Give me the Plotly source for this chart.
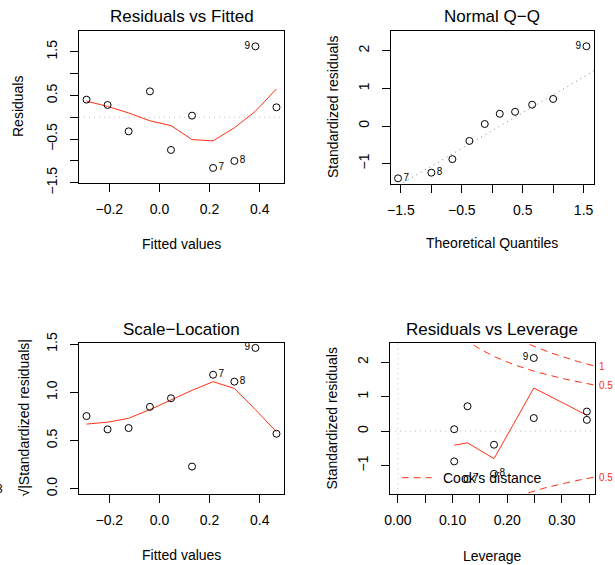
import numpy as np
import plotly.graph_objects as go

# ---------------- data ----------------
obs_ids = [1, 2, 3, 4, 5, 6, 7, 8, 9, 10]
fitted = [-0.291, -0.207, -0.123, -0.038, 0.046, 0.130, 0.214, 0.299, 0.383, 0.467]
residuals = [0.405, 0.282, -0.321, 0.595, -0.748, 0.038, -1.160, -1.000, 1.626, 0.229]
std_resid = [0.567, 0.378, -0.396, 0.720, -0.880, 0.053, -1.390, -1.240, 2.120, 0.325]
sqrt_abs_std = [0.753, 0.615, 0.629, 0.849, 0.938, 0.230, 1.182, 1.110, 1.460, 0.570]
leverage = [0.3455, 0.2485, 0.1758, 0.1273, 0.1030, 0.1030, 0.1273, 0.1758, 0.2485, 0.3455]
theoretical_q = [-1.547, -1.000, -0.655, -0.375, -0.123, 0.123, 0.375, 0.655, 1.000, 1.547]

smooth_fitted = [0.37, 0.25, 0.10, -0.08, -0.19, -0.51, -0.54, -0.24, 0.14, 0.65]
smooth_scale = [0.67, 0.69, 0.73, 0.82, 0.92, 1.02, 1.11, 1.04, 0.82, 0.59]
smooth_lev_x = [0.1030, 0.1273, 0.1758, 0.2485, 0.3455]
smooth_lev_y = [-0.41, -0.34, -0.80, 1.25, 0.46]

cook_levels = [0.5, 1.0]
n_params = 2
label_side = {7: "middle right", 8: "middle right", 9: "middle left"}

# ---------------- styling ----------------
W, H = 615, 565
FONT = "Liberation Sans, Arial, Helvetica, sans-serif"
RED = "#ff3015"
MINUS = "\u2212"


def fx(p):
    return p / W


def fy(p):
    return 1 - p / H


def fmt(v, nd):
    s = f"{abs(v):.{nd}f}"
    return (MINUS + s) if v < 0 else s


def ticks(vals, labelled_vals, nd):
    return dict(tickvals=vals,
                ticktext=[fmt(v, nd) if any(abs(v - l) < 1e-9 for l in labelled_vals) else "" for v in vals])


def axis(domain_px, rng, tk, anchor, is_y=False):
    d = dict(
        domain=[fy(domain_px[1]), fy(domain_px[0])] if is_y else [fx(domain_px[0]), fx(domain_px[1])],
        range=rng, anchor=anchor, showgrid=False, zeroline=False, automargin=False,
        showline=True, mirror=True, linecolor="black", linewidth=1,
        ticks="outside", ticklen=8, tickwidth=1, tickcolor="black",
        tickfont=dict(family=FONT, size=14, color="black"),
        ticklabelstandoff=7 if is_y else 5,
        **tk,
    )
    if is_y:
        d["tickangle"] = -90
    return d


fig = go.Figure()


def point_trace(x, y, xa, ya):
    texts = [str(i) if i in label_side else "" for i in obs_ids]
    pos = [label_side.get(i, "middle right") for i in obs_ids]
    return go.Scatter(x=x, y=y, xaxis=xa, yaxis=ya, mode="markers+text",
                      text=texts, textposition=pos,
                      textfont=dict(family=FONT, size=10, color="black"),
                      marker=dict(symbol="circle-open", size=7, color="black",
                                  line=dict(width=1, color="black")),
                      cliponaxis=False, hoverinfo="skip")


# Panel 1: Residuals vs Fitted
fig.add_trace(go.Scatter(x=fitted, y=smooth_fitted, xaxis="x", yaxis="y", mode="lines",
                         line=dict(color=RED, width=1), hoverinfo="skip"))
fig.add_trace(point_trace(fitted, residuals, "x", "y"))

# Panel 2: Normal Q-Q
order = np.argsort(std_resid)
qq_y = [std_resid[i] for i in order]
qq_ids = [obs_ids[i] for i in order]
q1, q3 = np.quantile(std_resid, [0.25, 0.75])
z75 = 0.6744898
slope = (q3 - q1) / (2 * z75)
intercept = q1 + slope * z75
qx_rng = [-1.671, 1.671]
fig.add_trace(go.Scatter(x=qx_rng, y=[intercept + slope * v for v in qx_rng], xaxis="x2", yaxis="y2",
                         mode="lines", line=dict(color="#7f7f7f", width=1, dash="1px,4px"),
                         hoverinfo="skip"))
fig.add_trace(go.Scatter(x=theoretical_q, y=qq_y, xaxis="x2", yaxis="y2", mode="markers+text",
                         text=[str(i) if i in label_side else "" for i in qq_ids],
                         textposition=[label_side.get(i, "middle right") for i in qq_ids],
                         textfont=dict(family=FONT, size=10, color="black"),
                         marker=dict(symbol="circle-open", size=7, color="black",
                                     line=dict(width=1, color="black")),
                         cliponaxis=False, hoverinfo="skip"))

# Panel 3: Scale-Location
fig.add_trace(go.Scatter(x=fitted, y=smooth_scale, xaxis="x3", yaxis="y3", mode="lines",
                         line=dict(color=RED, width=1), hoverinfo="skip"))
fig.add_trace(point_trace(fitted, sqrt_abs_std, "x3", "y3"))

# Panel 4: Residuals vs Leverage
lev_rng = [-0.0144, 0.3604]
lev_y_rng = [-1.834, 2.564]
hh = np.linspace(min(leverage[0], leverage[1] / 100), lev_rng[1], 101)
for c in cook_levels:
    cl = np.sqrt(c * n_params * (1 - hh) / hh)
    for sgn in (1, -1):
        fig.add_trace(go.Scatter(x=hh, y=sgn * cl, xaxis="x4", yaxis="y4", mode="lines",
                                 line=dict(color=RED, width=1, dash="7px,5px"), hoverinfo="skip"))
fig.add_trace(go.Scatter(x=smooth_lev_x, y=smooth_lev_y, xaxis="x4", yaxis="y4", mode="lines",
                         line=dict(color=RED, width=1), hoverinfo="skip"))
fig.add_trace(point_trace(leverage, std_resid, "x4", "y4"))

# axes
P1 = ([79, 284], [31, 183.3])
P2 = ([390.5, 594], [30.7, 184])
P3 = ([79, 284], [342.7, 494.3])
P4 = ([390, 595], [342.7, 494.3])
fit_x_ticks = ticks([-0.2, 0.0, 0.2, 0.4], [-0.2, 0.0, 0.2, 0.4], 1)
fig.update_layout(
    xaxis=axis(P1[0], [-0.321, 0.497], fit_x_ticks, "y"),
    yaxis=axis(P1[1], [-1.512, 1.978],
               ticks([-1.5, -1, -0.5, 0, 0.5, 1, 1.5], [-1.5, -0.5, 0.5, 1.5], 1), "x", True),
    xaxis2=axis(P2[0], qx_rng,
                ticks([-1.5, -1, -0.5, 0, 0.5, 1, 1.5], [-1.5, -0.5, 0.5, 1.5], 1), "y2"),
    yaxis2=axis(P2[1], [-1.541, 2.534], ticks([-1, 0, 1, 2], [-1, 0, 1, 2], 0), "x2", True),
    xaxis3=axis(P3[0], [-0.321, 0.497], fit_x_ticks, "y3"),
    yaxis3=axis(P3[1], [-0.058, 1.514], ticks([0, 0.5, 1.0, 1.5], [0, 0.5, 1.0, 1.5], 1), "x3", True),
    xaxis4=axis(P4[0], lev_rng,
                ticks([0, 0.05, 0.10, 0.15, 0.20, 0.25, 0.30, 0.35], [0, 0.10, 0.20, 0.30], 2), "y4"),
    yaxis4=axis(P4[1], lev_y_rng, ticks([-1, 0, 1, 2], [-1, 0, 1, 2], 0), "x4", True),
)

# reference lines (dotted gray)
dot_gray = dict(color="#bebebe", width=1, dash="1px,4px")
fig.add_shape(type="line", xref="x domain", yref="y", x0=0, x1=1, y0=0, y1=0, line=dot_gray, layer="below")
fig.add_shape(type="line", xref="x4 domain", yref="y4", x0=0, x1=1, y0=0, y1=0, line=dot_gray, layer="below")
fig.add_shape(type="line", xref="x4", yref="y4 domain", x0=0, x1=0, y0=0, y1=1, line=dot_gray, layer="below")

# Cook's distance legend
fig.add_shape(type="line", xref="paper", yref="paper", x0=fx(401.7), x1=fx(431.7), y0=fy(477.7), y1=fy(477.7),
              line=dict(color=RED, width=1, dash="7px,5px"))
annotations = [
    dict(text="Cook's distance", x=fx(441), y=fy(478), xanchor="left", yanchor="middle",
         font=dict(size=14)),
    # clipped glyph at the very left edge of the reference
    dict(text="3", x=fx(5), y=fy(489), xanchor="right", yanchor="middle", font=dict(size=12)),
]

# Cook's level labels on right edge
for c in cook_levels:
    aty = np.sqrt(c * n_params * (1 - lev_rng[1]) / lev_rng[1])
    for sgn in (1, -1):
        yv = sgn * aty
        if lev_y_rng[0] <= yv <= lev_y_rng[1]:
            annotations.append(dict(text=f"{c:g}", xref="paper", yref="y4", x=fx(597), y=yv,
                                    xanchor="left", yanchor="middle",
                                    font=dict(size=10, color=RED)))

# titles
titles = [("Residuals vs Fitted", 181.5, 17), ("Normal Q\u2212Q", 492, 17),
          ("Scale\u2212Location", 181.5, 329), ("Residuals vs Leverage", 492, 329)]
for t, x, y in titles:
    annotations.append(dict(text=t, x=fx(x), y=fy(y), xanchor="center", yanchor="middle",
                            font=dict(size=17)))

# x axis titles
for t, x, y in [("Fitted values", 181.5, 244), ("Theoretical Quantiles", 492, 243),
                ("Fitted values", 181.5, 555), ("Leverage", 492, 556)]:
    annotations.append(dict(text=t, x=fx(x), y=fy(y), xanchor="center", yanchor="middle",
                            font=dict(size=14)))

# y axis titles
for t, x, y in [("Residuals", 18, 107), ("Standardized residuals", 333, 107),
                ("\u221a|Standardized residuals|", 23, 418.5), ("Standardized residuals", 331, 418.5)]:
    annotations.append(dict(text=t, x=fx(x), y=fy(y), xanchor="center", yanchor="middle",
                            textangle=-90, font=dict(size=14)))

for a in annotations:
    a.setdefault("xref", "paper")
    a.setdefault("yref", "paper")
    a["showarrow"] = False
    a["font"].setdefault("color", "black")
    a["font"]["family"] = FONT

fig.update_layout(
    annotations=annotations,
    width=W, height=H, margin=dict(l=0, r=0, t=0, b=0, pad=0, autoexpand=False),
    paper_bgcolor="white", plot_bgcolor="white", showlegend=False,
    font=dict(family=FONT, color="black"),
)

fig.write_html("out.html", config={"displayModeBar": False, "staticPlot": True},
               post_script="document.body.style.margin='0';document.body.style.overflow='hidden';")
